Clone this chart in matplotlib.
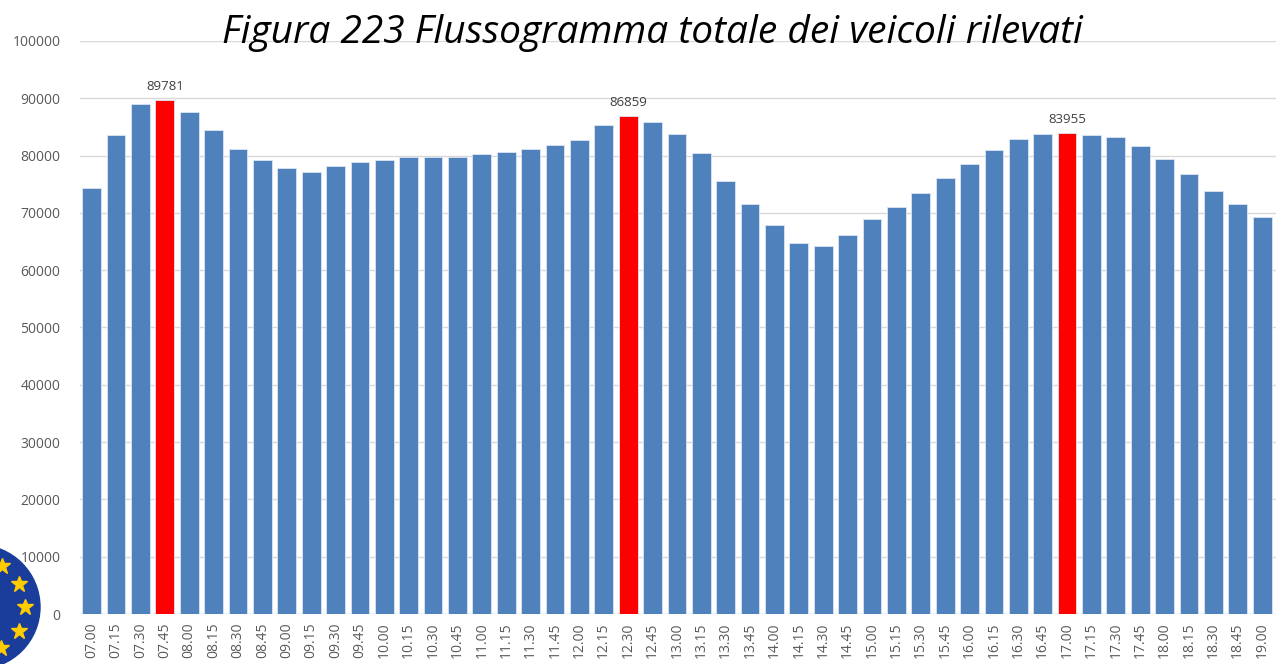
import numpy as np
import matplotlib.pyplot as plt
from matplotlib.patches import Circle

# time slots (15 min) and total vehicles counted
orari = ['07.00', '07.15', '07.30', '07.45', '08.00', '08.15', '08.30', '08.45',
         '09.00', '09.15', '09.30', '09.45', '10.00', '10.15', '10.30', '10.45',
         '11.00', '11.15', '11.30', '11.45', '12.00', '12.15', '12.30', '12.45',
         '13.00', '13.15', '13.30', '13.45', '14.00', '14.15', '14.30', '14.45',
         '15.00', '15.15', '15.30', '15.45', '16.00', '16.15', '16.30', '16.45',
         '17.00', '17.15', '17.30', '17.45', '18.00', '18.15', '18.30', '18.45',
         '19.00']
veicoli = [74400, 83600, 89000, 89781, 87600, 84500, 81100, 79300,
           77900, 77100, 78200, 78800, 79300, 79800, 79700, 79800,
           80200, 80700, 81100, 81900, 82700, 85300, 86859, 85800,
           83800, 80500, 75600, 71500, 67900, 64700, 64300, 66200,
           68900, 71100, 73500, 76000, 78500, 80900, 82900, 83700,
           83955, 83600, 83200, 81600, 79400, 76800, 73800, 71600,
           69300]
picchi = ['07.45', '12.30', '17.00']

blue = '#4F81BD'
red = '#FF0000'
grey = '#595959'

fig = plt.figure(figsize=(12.76, 6.64), dpi=100)
ax = fig.add_axes([0.0627, 0.0753, 0.94, 0.863])

x = np.arange(len(orari))
colori = [red if o in picchi else blue for o in orari]
ax.bar(x, veicoli, width=0.77, color=colori, edgecolor='#DCE6F2', linewidth=0.6, zorder=3)

# value labels on the peaks
for i, o in enumerate(orari):
    if o in picchi:
        ax.text(x[i], veicoli[i] + 1200, str(veicoli[i]), ha='center', va='bottom',
                fontsize=9.5, color='#404040', family='Open Sans')

ax.set_ylim(0, 100000)
ax.set_xlim(-0.48, len(orari) - 0.29)
ax.set_yticks(np.arange(0, 100001, 10000))
ax.set_xticks(x)
ax.set_xticklabels(orari, rotation=90)
ax.tick_params(axis='both', length=0, colors=grey, labelsize=10)
ax.tick_params(axis='y', pad=14)
ax.tick_params(axis='x', pad=6)
for lbl in ax.get_xticklabels() + ax.get_yticklabels():
    lbl.set_family('Open Sans')
ax.grid(axis='y', color='#D9D9D9', linewidth=1, zorder=0)
for s in ax.spines.values():
    s.set_visible(False)
ax.axhline(0, color='#D9D9D9', linewidth=1, zorder=2)

fig.text(0.511, 0.95, 'Figura 223 Flussogramma totale dei veicoli rilevati',
         ha='center', va='center', fontsize=28, style='italic', family='Open Sans')

# EU logo, cut at the bottom-left corner (inch coordinates)
logo = Circle((-0.22, 0.57), 0.62, transform=fig.dpi_scale_trans, color='#1A3D9C',
              clip_on=False, zorder=5)
fig.add_artist(logo)
ang = np.linspace(0, 2 * np.pi, 13)[:-1]
sx = -0.22 + 0.47 * np.cos(ang)
sy = 0.57 + 0.47 * np.sin(ang)
fig.add_artist(plt.Line2D(sx, sy, transform=fig.dpi_scale_trans, ls='none', marker='*',
                          ms=12, color='#FFCC00', zorder=6))

fig.savefig('out.png', dpi=100)
